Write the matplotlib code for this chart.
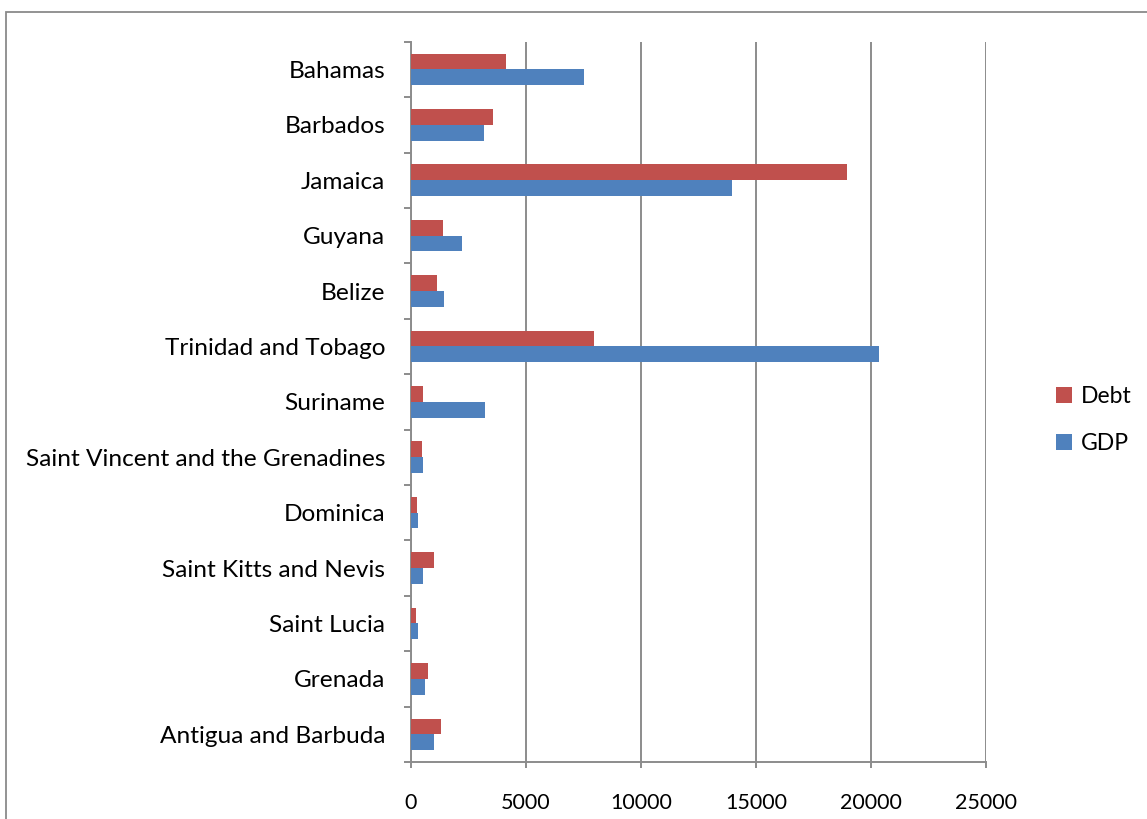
import matplotlib.pyplot as plt
from matplotlib.patches import Rectangle
import numpy as np

# data, bottom to top as drawn
countries = ["Antigua and Barbuda", "Grenada", "Saint Lucia", "Saint Kitts and Nevis",
             "Dominica", "Saint Vincent and the Grenadines", "Suriname",
             "Trinidad and Tobago", "Belize", "Guyana", "Jamaica", "Barbados", "Bahamas"]
debt = [1290, 730, 230, 1020, 250, 480, 510, 7970, 1120, 1400, 18960, 3570, 4130]
gdp = [990, 610, 300, 500, 300, 540, 3230, 20350, 1420, 2220, 13960, 3190, 7500]
xticks = [0, 5000, 10000, 15000, 20000, 25000]

red = "#C0504D"
blue = "#4F81BD"
grey = "#8C8C8C"

plt.rcParams['font.family'] = ['Lato', 'DejaVu Sans']

fig = plt.figure(figsize=(11.47, 8.19), dpi=100)

# outer chart border, cut off at right and bottom
fig.patches.append(Rectangle((6/1147, -0.1), 1.2, (819 - 12)/819 + 0.1,
                             transform=fig.transFigure, fill=False,
                             edgecolor="#8A8A8A", linewidth=1.3))

ax = fig.add_axes([411/1147, 57/819, 575/1147, 720.3/819])

y = np.arange(len(countries))
h = 0.285
ax.barh(y + h/2, debt, height=h, color=red, label="Debt", zorder=3)
ax.barh(y - h/2, gdp, height=h, color=blue, label="GDP", zorder=3)

ax.set_xlim(0, 25000)
ax.set_ylim(-0.5, len(countries) - 0.5)
ax.set_xticks(xticks)
ax.xaxis.grid(True, color=grey, linewidth=1.4, zorder=0)

# category labels without marks, marks at the boundaries
ax.set_yticks(y)
ax.set_yticklabels(countries)
ax.set_yticks(np.arange(-0.5, len(countries), 1), minor=True)
ax.tick_params(axis="y", which="major", length=0, pad=18.5, labelsize=17.6)
ax.tick_params(axis="y", which="minor", length=5, width=1.4, color=grey)
ax.tick_params(axis="x", length=4.5, width=1.4, color=grey, pad=18, labelsize=15.5)

for s in ["top", "right"]:
    ax.spines[s].set_visible(False)
for s in ["left", "bottom"]:
    ax.spines[s].set_color(grey)
    ax.spines[s].set_linewidth(1.4)

ax.legend(loc="center left", bbox_to_anchor=(1056/1147, (819 - 420)/819),
          bbox_transform=fig.transFigure, frameon=False, fontsize=16.5,
          handlelength=0.7, handleheight=0.7, handletextpad=0.4,
          labelspacing=1.15, borderaxespad=0, borderpad=0)

fig.savefig("out.png", dpi=100)
